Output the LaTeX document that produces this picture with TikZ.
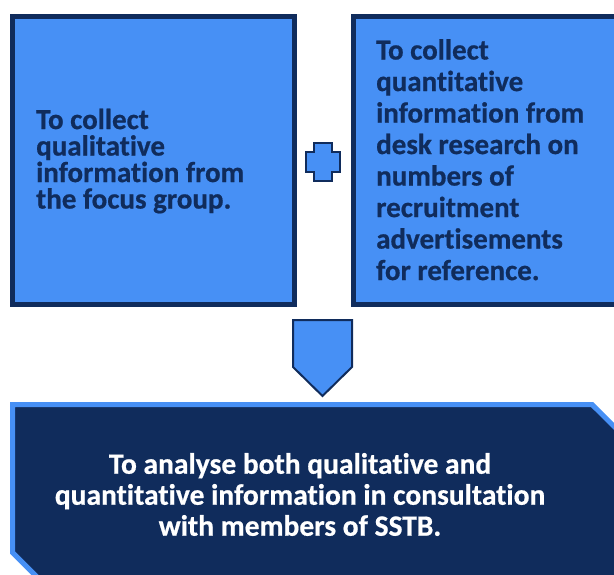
\documentclass[tikz,border=0pt]{standalone}
\usepackage{fontspec}
\setmainfont{Carlito}[BoldFont={Carlito Bold}, BoldFeatures={FakeBold=0.6}, Ligatures=NoCommon]
\definecolor{skyfill}{HTML}{4790F5}
\definecolor{navyline}{HTML}{102C5C}
\tikzset{
  panel/.style={draw=navyline, fill=skyfill, line width=5pt},
  toptext/.style={anchor=north west, inner sep=0pt, align=left, text=navyline,
    font=\bfseries\fontsize{29}{26.5}\selectfont},
  sign/.style={draw=navyline, fill=skyfill, line width=2pt, line join=miter}
}
\begin{document}
\begin{tikzpicture}[x=1pt, y=-1pt]
			\useasboundingbox (0,0) rectangle (614,575);
			\clip (0,0) rectangle (614,575);
			
			% two upper panels
			\draw[panel] (12.5,16.5) rectangle (294.5,304.5);
			\draw[panel] (353.5,16.5) rectangle (625,304.5);
			
			\node[toptext] (focus) at (36,108.5) {To collect\\qualitative\\information from\\the focus group.};
			\node[toptext, font=\bfseries\fontsize{29}{31.5}\selectfont] (desk) at (376,39)
				{To collect\\quantitative\\information from\\desk research on\\numbers of\\recruitment\\advertisements\\for reference.};
			
			% plus sign
			\draw[sign] (314,143) -- (332,143) -- (332,152) -- (340,152) -- (340,172) -- (332,172)
				-- (332,181) -- (314,181) -- (314,172) -- (306,172) -- (306,152) -- (314,152) -- cycle;
			
			% down arrow
			\draw[sign] (293,320) -- (352,320) -- (352,367) -- (322.5,396) -- (293,367) -- cycle;
			
			% lower panel
			\draw[draw=skyfill, fill=navyline, line width=5pt, line join=miter]
				(12.5,404.5) -- (592,404.5) -- (660,472) -- (660,600) -- (60,600) -- (12.5,552.5) -- cycle;
			\node[inner sep=0pt, align=center, text=white, font=\bfseries\fontsize{29.5}{31}\selectfont] (analyse) at (300,494.5)
				{To analyse both qualitative and\\quantitative information in consultation\\with members of SSTB.};
			
		\end{tikzpicture}
\end{document}
